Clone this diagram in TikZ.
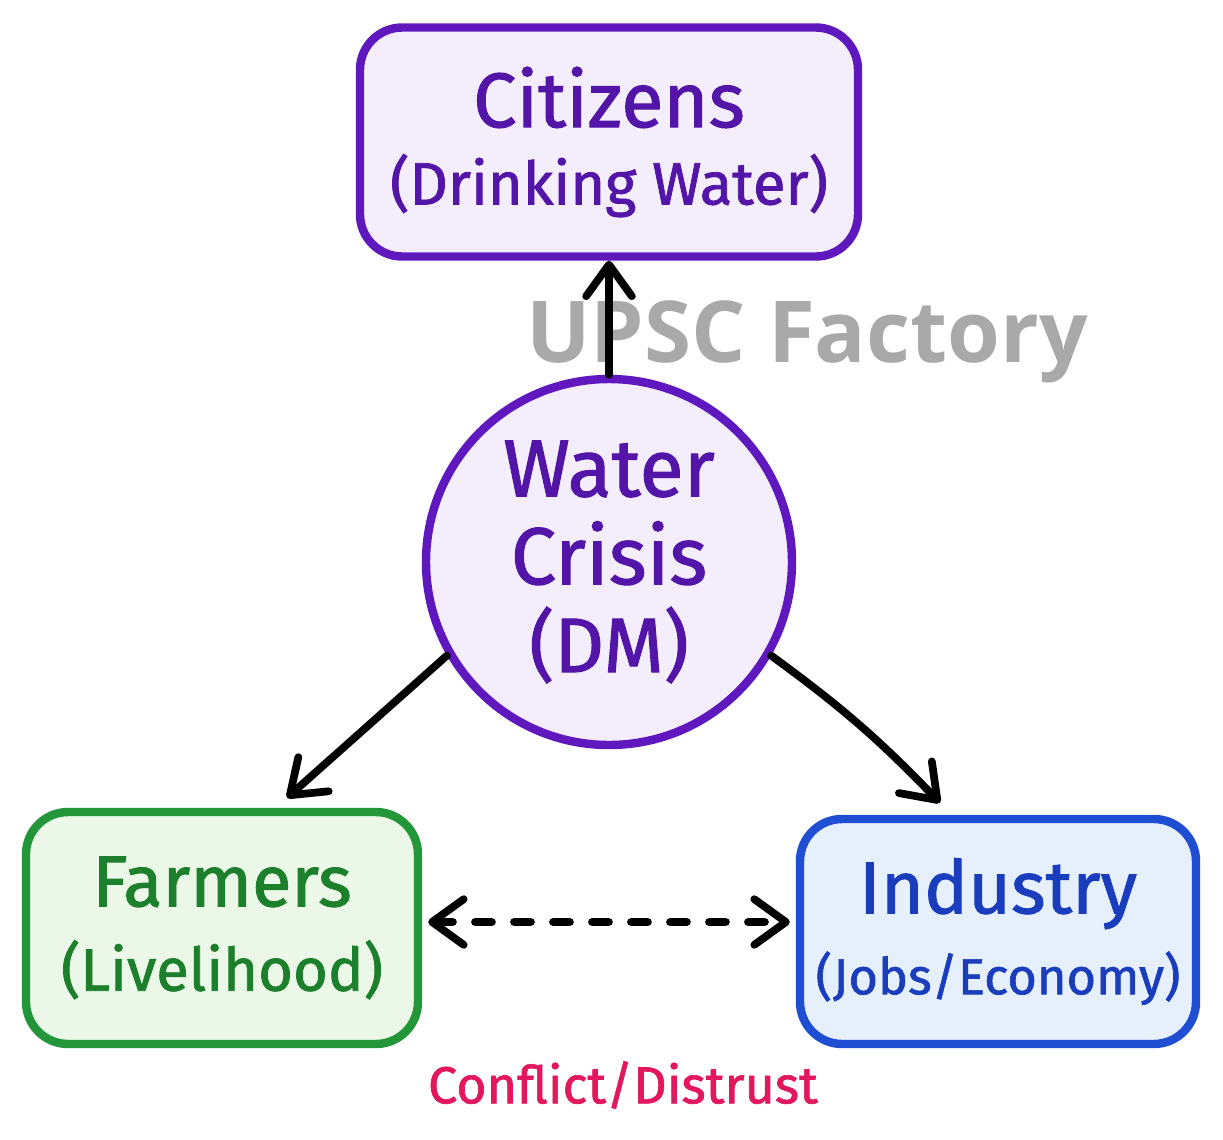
\documentclass[tikz,border=0pt]{standalone}
\usepackage{fontspec}
\setmainfont{Fira Sans}[FakeBold=1.3]
\newfontfamily\markfont{Open Sans}
\usetikzlibrary{arrows.meta}

\definecolor{crisisline}{HTML}{5F17BE}
\definecolor{crisistext}{HTML}{5314A8}
\definecolor{crisisfill}{HTML}{F4EEFC}
\definecolor{farmline}{HTML}{23963A}
\definecolor{farmtext}{HTML}{1C7F2C}
\definecolor{farmfill}{HTML}{EBF8E8}
\definecolor{indline}{HTML}{1F4ED2}
\definecolor{indtext}{HTML}{1A3DBE}
\definecolor{indfill}{HTML}{E6F0FC}
\definecolor{conflictpink}{HTML}{E2175E}
\definecolor{markgray}{HTML}{A9A9A9}

\newcommand{\fs}[1]{\fontsize{#1}{#1}\selectfont}

\begin{document}
\begin{tikzpicture}[
    box/.style={draw, line width=2.4pt, rounded corners=12pt, align=center},
    link/.style={-{Straight Barb[round, length=9pt, width=13pt]}, line width=2.2pt, line cap=round},
  ]
  \useasboundingbox (0,0) rectangle (12.23,-11.40);

  % Watermark
  \node[text=markgray, font=\markfont\bfseries\fs{24.3}] (mark) at (8.07,-3.42) {UPSC Factory};

  % Citizens box
  \node[box, draw=crisisline, fill=crisisfill, text=crisistext, minimum width=4.98cm, minimum height=2.29cm,
    font=\fontsize{17}{22}\selectfont] (citizens) at (6.09,-1.42) {{\fs{22}Citizens}\\(Drinking Water)};

  % Centre circle
  \node[circle, draw=crisisline, fill=crisisfill, text=crisistext, line width=2.4pt, minimum size=3.66cm,
    align=center, font=\fontsize{23}{25}\selectfont] (crisis) at (6.09,-5.62) {Water\\Crisis\\{\fs{22}(DM)}};

  % Farmers box
  \node[box, draw=farmline, fill=farmfill, text=farmtext, minimum width=3.92cm, minimum height=2.32cm,
    font=\fontsize{17}{24}\selectfont] (farmers) at (2.22,-9.28) {{\fs{20.5}Farmers}\\(Livelihood)};

  % Industry box
  \node[box, draw=indline, fill=indfill, text=indtext, minimum width=3.96cm, minimum height=2.25cm,
    font=\fontsize{14.4}{23}\selectfont] (industry) at (9.98,-9.315) {{\fs{21}Industry}\\(Jobs/Economy)};

  % Arrows out of the crisis
  \draw[link] (crisis.north) -- (citizens.south);
  \draw[link] (crisis.210) -- ([xshift=0.65cm,yshift=0.1cm]farmers.north);
  \draw[link] (crisis.-30) to[bend left=5] ([xshift=-0.58cm,yshift=0.12cm]industry.north);

  % Conflict between farmers and industry
  \draw[{Straight Barb[round, length=9pt, width=13pt]}-{Straight Barb[round, length=9pt, width=13pt]},
    line width=2.2pt, line cap=round, dash pattern=on 0.17cm off 0.22cm]
    ([shift={(0.06,0.06)}]farmers.east) -- ([shift={(-0.06,0.095)}]industry.west);
  \node[text=conflictpink, font=\fs{14.8}] (conflict) at (6.23,-10.85) {Conflict/Distrust};
\end{tikzpicture}
\end{document}
